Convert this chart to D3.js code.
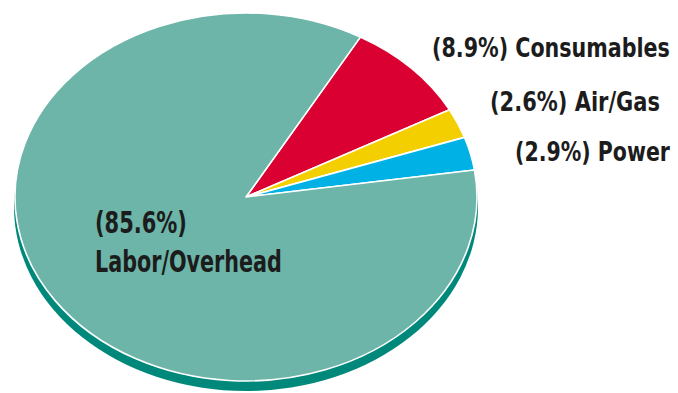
<!DOCTYPE html>
<html>
<head>
<meta charset="utf-8">
<script src="https://cdn.jsdelivr.net/npm/d3@7"></script>
<style>
  html, body { margin: 0; padding: 0; background: #ffffff; }
  svg { display: block; }
  text { font-family: "DejaVu Sans Condensed", "Liberation Sans Narrow", "Roboto", sans-serif; font-weight: bold; fill: #1c1c1c; }
</style>
</head>
<body>
<svg id="chart" width="678" height="393"></svg>
<script>
// Cost breakdown, in percent
const categories = ["Consumables", "Air/Gas", "Power", "Labor/Overhead"];
const shares = [8.9, 2.6, 2.9, 85.6];
const colors = ["#da0032", "#f4cf00", "#00b1e6", "#6cb5a8"];

const cx = 246, cy = 197;    // centre of the top face
const rx = 231, ry = 184;    // radii of the elliptical top face
const depth = 10;            // visible thickness of the disc

const svg = d3.select("#chart");

// Slices start a little past twelve o'clock and run clockwise
const pie = d3.pie().sort(null).value(d => d)
  .startAngle(0.518).endAngle(0.518 + 2 * Math.PI);
const arcs = pie(shares);

// Unit-radius arc, stretched into an ellipse by the group transform
const arc = d3.arc().innerRadius(0).outerRadius(1);

// Side of the disc
svg.append("ellipse")
  .attr("cx", cx).attr("cy", cy + depth)
  .attr("rx", rx + 1).attr("ry", ry)
  .attr("fill", "#00897a");

const face = svg.append("g")
  .attr("transform", `translate(${cx},${cy}) scale(${rx},${ry})`);

face.selectAll("path")
  .data(arcs)
  .join("path")
  .attr("d", arc)
  .attr("fill", (d, i) => colors[i])
  .attr("stroke", "#ffffff")
  .attr("stroke-width", 1.6)
  .attr("vector-effect", "non-scaling-stroke")
  .attr("stroke-linejoin", "round");

// Labels in a narrow face: each line is squeezed horizontally to its set width
const fmt = v => `(${v.toFixed(1)}%)`;
function narrow(sel) {
  sel.each(function (d) {
    const t = d3.select(this);
    const natural = this.getComputedTextLength();
    const k = d.w / natural;
    t.attr("x", 0).attr("y", 0)
     .attr("transform", `translate(${d.x},${d.y}) scale(${k},1)`);
  });
}

const sideLabels = [
  { t: `${fmt(shares[0])} ${categories[0]}`, x: 432, y: 57, w: 238 },
  { t: `${fmt(shares[1])} ${categories[1]}`, x: 490, y: 111, w: 170 },
  { t: `${fmt(shares[2])} ${categories[2]}`, x: 515, y: 161, w: 155 }
];
svg.selectAll("text.side")
  .data(sideLabels)
  .join("text")
  .attr("class", "side")
  .attr("font-size", 27)
  .text(d => d.t)
  .call(narrow);

const mainLines = [
  { t: fmt(shares[3]), x: 95, y: 233, w: 92 },
  { t: categories[3], x: 95, y: 272, w: 187 }
];
svg.selectAll("text.main")
  .data(mainLines)
  .join("text")
  .attr("class", "main")
  .attr("font-size", 30)
  .text(d => d.t)
  .call(narrow);
</script>
</body>
</html>
